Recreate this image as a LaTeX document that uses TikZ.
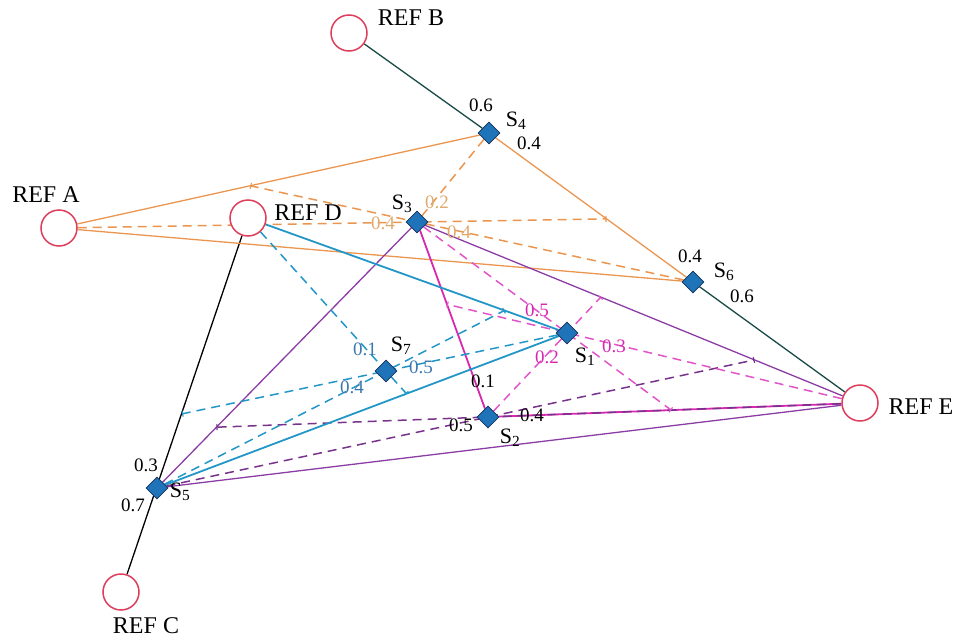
\documentclass[tikz,border=0pt]{standalone}
\usepackage{fontspec}
\setmainfont{Liberation Serif}
\usetikzlibrary{arrows.meta,shapes.geometric}
\definecolor{refred}{RGB}{222,62,92}
\definecolor{siteblue}{RGB}{30,115,185}
\definecolor{siteedge}{RGB}{20,50,90}
\definecolor{tealline}{RGB}{25,75,70}
\definecolor{orangeline}{RGB}{235,150,80}
\definecolor{orangetext}{RGB}{222,170,112}
\definecolor{cyanline}{RGB}{35,150,200}
\definecolor{cyantext}{RGB}{60,120,175}
\definecolor{purpleline}{RGB}{140,60,165}
\definecolor{magentaline}{RGB}{215,40,175}
\definecolor{pinkdash}{RGB}{225,85,200}
\definecolor{purpledash}{RGB}{120,50,140}
\pgfdeclarelayer{bg}
\pgfsetlayers{bg,main}
\tikzset{
  refnode/.style={circle, draw=refred, line width=1.5pt, minimum size=36pt,
                  inner sep=0pt, fill=white},
  site/.style={diamond, draw=siteedge, fill=siteblue, line width=0.8pt,
               minimum size=22pt, inner sep=0pt},
  reflab/.style={font=\fontsize{24}{24}\selectfont, inner sep=0pt},
  sitelab/.style={font=\fontsize{22}{22}\selectfont, inner sep=0pt},
  wlab/.style={font=\fontsize{19}{19}\selectfont, inner sep=0pt},
  solidln/.style={line width=1.3pt},
  thickln/.style={line width=1.8pt},
  dashln/.style={line width=1.5pt, dash pattern=on 9pt off 6pt},
  ontick/.style={-{Bar[width=6pt,line width=1.1pt]}},
}

\begin{document}
\begin{tikzpicture}[x=1pt, y=-1pt]
  \useasboundingbox (0,0) rectangle (959,640);
  % reference stations
  \node[refnode] (refA) at (59,228) {};
  \node[refnode] (refB) at (349,33) {};
  \node[refnode] (refC) at (121,592) {};
  \node[refnode] (refD) at (248,218) {};
  \node[refnode] (refE) at (860,403) {};
  \node[reflab] (labA) at (46,195) {REF A};
  \node[reflab] (labB) at (411,18) {REF B};
  \node[reflab] (labC) at (146,626) {REF C};
  \node[reflab] (labD) at (308,213) {REF D};
  \node[reflab] (labE) at (921,407) {REF E};
  % sites
  \node[site] (s1) at (567,333) {};
  \node[site] (s2) at (488,417) {};
  \node[site] (s3) at (417,222) {};
  \node[site] (s4) at (489,133) {};
  \node[site] (s5) at (157,488) {};
  \node[site] (s6) at (693,282) {};
  \node[site] (s7) at (386,371) {};

  \begin{pgfonlayer}{bg}
    % outer lines
    \draw[solidln] (refD) -- (refC);
    \draw[solidln, tealline] (refB) -- (s4);
    \draw[solidln, tealline] (s6) -- (refE);
    \draw[solidln, orangeline] (s4) -- (s6);
    \draw[solidln, orangeline] (refA) -- (s4);
    \draw[solidln, orangeline] (refA) -- (s6);
    % S3 from A, S4, S6
    \coordinate (o1) at (intersection of refA--s3 and s4--s6);
    \coordinate (o2) at (intersection of s6--s3 and refA--s4);
    \draw[dashln, orangeline, ontick] (refA) -- (o1);
    \draw[dashln, orangeline, ontick] (s6) -- (o2);
    \draw[dashln, orangeline] (s4) -- (s3);
    % triangle S3, S5, E
    \draw[solidln, purpleline] (s3) -- (s5);
    \draw[solidln, purpleline] (s3) -- (refE);
    \draw[solidln, purpleline] (s5) -- (refE);
    \draw[thickln, magentaline] (s3) -- (s2);
    \draw[thickln, magentaline] (s2) -- (refE);
    % S2
    \coordinate (p1) at (intersection of s5--s2 and s3--refE);
    \coordinate (p2) at (intersection of refE--s2 and s3--s5);
    \draw[dashln, purpledash, ontick] (s5) -- (p1);
    \draw[dashln, purpledash, ontick] (refE) -- (p2);
    % S1
    \coordinate (m1) at (intersection of s3--s1 and s2--refE);
    \coordinate (m2) at (intersection of refE--s1 and s3--s2);
    \coordinate (m3) at (intersection of s2--s1 and s3--refE);
    \draw[dashln, pinkdash, ontick] (s3) -- (m1);
    \draw[dashln, pinkdash, ontick] (refE) -- (m2);
    \draw[dashln, pinkdash, ontick] (s2) -- (m3);
    % S7
    \draw[thickln, cyanline] (refD) -- (s1);
    \draw[thickln, cyanline] (s5) -- (s1);
    \coordinate (c1) at (intersection of refD--s7 and s5--s1);
    \coordinate (c2) at (intersection of s1--s7 and refD--s5);
    \coordinate (c3) at (intersection of s5--s7 and refD--s1);
    \draw[dashln, cyanline, ontick] (refD) -- (c1);
    \draw[dashln, cyanline, ontick] (s1) -- (c2);
    \draw[dashln, cyanline, ontick] (s5) -- (c3);
  \end{pgfonlayer}

  % site names and weights
  \node[sitelab] (n4) at (516,121) {S\textsubscript{4}};
  \node[wlab] (w4a) at (481,105) {0.6};
  \node[wlab] (w4b) at (529,143) {0.4};
  \node[sitelab] (n3) at (402,204) {S\textsubscript{3}};
  \node[wlab, orangetext] (w3a) at (437,202) {0.2};
  \node[wlab, orangetext] (w3b) at (383,223) {0.4};
  \node[wlab, orangetext] (w3c) at (459,232) {0.4};
  \node[sitelab] (n6) at (724,272) {S\textsubscript{6}};
  \node[wlab] (w6a) at (690,256) {0.4};
  \node[wlab] (w6b) at (742,296) {0.6};
  \node[sitelab] (n1) at (585,357) {S\textsubscript{1}};
  \node[wlab, magentaline] (w1a) at (537,310) {0.5};
  \node[wlab, magentaline] (w1b) at (547,357) {0.2};
  \node[wlab, magentaline] (w1c) at (614,346) {0.3};
  \node[sitelab] (n7) at (401,346) {S\textsubscript{7}};
  \node[wlab, cyantext] (w7a) at (365,349) {0.1};
  \node[wlab, cyantext] (w7b) at (421,367) {0.5};
  \node[wlab, cyantext] (w7c) at (352,387) {0.4};
  \node[sitelab] (n2) at (510,438) {S\textsubscript{2}};
  \node[wlab] (w2a) at (483,381) {0.1};
  \node[wlab] (w2b) at (461,425) {0.5};
  \node[wlab] (w2c) at (532,415) {0.4};
  \node[sitelab] (n5) at (180,492) {S\textsubscript{5}};
  \node[wlab] (w5a) at (146,465) {0.3};
  \node[wlab] (w5b) at (133,505) {0.7};
\end{tikzpicture}
\end{document}
